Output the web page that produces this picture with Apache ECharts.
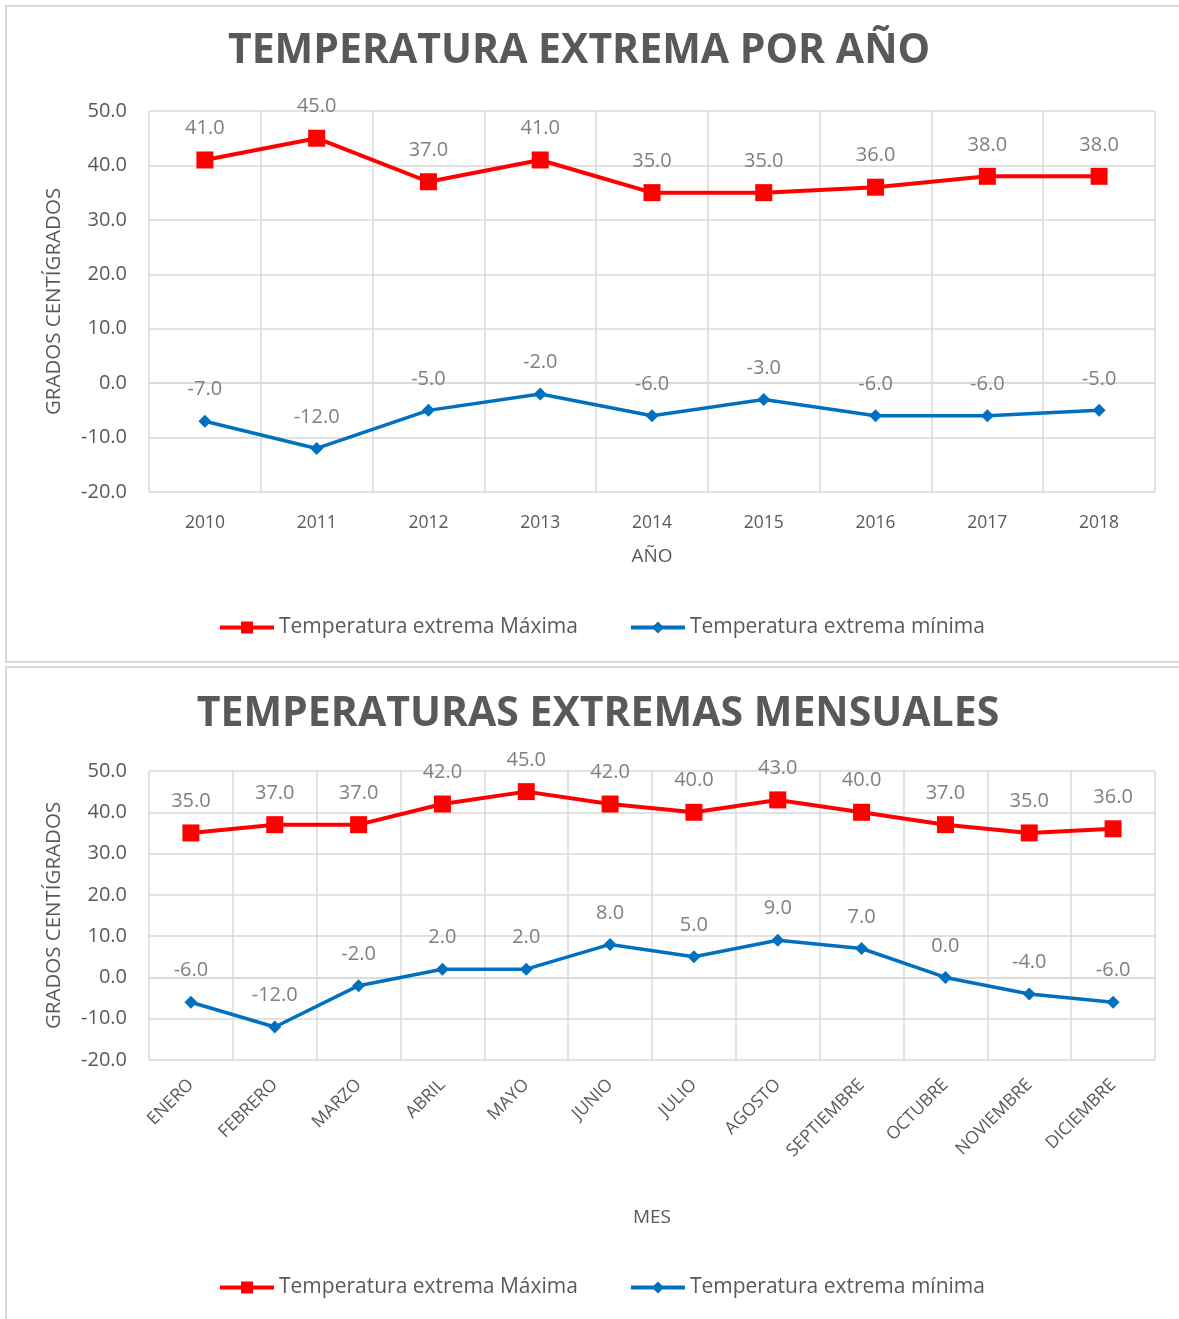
<!DOCTYPE html>
<html>
<head>
<meta charset="utf-8">
<script src="https://cdn.jsdelivr.net/npm/echarts@6/dist/echarts.min.js"></script>
<style>
  html, body { margin: 0; padding: 0; background: #fff; }
  #chartYear { position: absolute; left: 0; top: 0; width: 1179px; height: 664px; }
  #chartMonth { position: absolute; left: 0; top: 664px; width: 1179px; height: 655px; }
</style>
</head>
<body>
<div id="chartYear"></div>
<div id="chartMonth"></div>
<script>
// datos
const years = ['2010', '2011', '2012', '2013', '2014', '2015', '2016', '2017', '2018'];
const yearMax = [41, 45, 37, 41, 35, 35, 36, 38, 38];
const yearMin = [-7, -12, -5, -2, -6, -3, -6, -6, -5];

const months = ['ENERO', 'FEBRERO', 'MARZO', 'ABRIL', 'MAYO', 'JUNIO', 'JULIO', 'AGOSTO',
    'SEPTIEMBRE', 'OCTUBRE', 'NOVIEMBRE', 'DICIEMBRE'];
const monthMax = [35, 37, 37, 42, 45, 42, 40, 43, 40, 37, 35, 36];
const monthMin = [-6, -12, -2, 2, 2, 8, 5, 9, 7, 0, -4, -6];

const nameMax = 'Temperatura extrema Máxima';
const nameMin = 'Temperatura extrema mínima';

const FONT = '"Open Sans", sans-serif';
const TEXT = '#595959';
const GRID_LINE = '#d9d9d9';

function buildOption(cfg) {
    return {
        animation: false,
        textStyle: { fontFamily: FONT },
        graphic: [
            {
                type: 'rect',
                shape: cfg.border,
                style: { fill: 'none', stroke: GRID_LINE, lineWidth: 2 },
                silent: true,
            },
        ],
        title: {
            text: cfg.title,
            left: cfg.titleX,
            textAlign: 'center',
            top: cfg.titleTop,
            textStyle: { fontFamily: FONT, fontSize: 41, fontWeight: 'bold', color: TEXT },
        },
        legend: {
            left: 218,
            top: cfg.legendTop,
            padding: 0,
            itemWidth: 54,
            itemHeight: 15,
            itemGap: 51,
            textStyle: { fontFamily: FONT, fontSize: 21, color: TEXT },
            data: [
                { name: nameMax, lineStyle: { width: 4 } },
                { name: nameMin, lineStyle: { width: 4 } },
            ],
        },
        grid: { left: 149, top: cfg.gridTop, width: 1006, height: cfg.gridHeight },
        xAxis: {
            type: 'category',
            data: cfg.categories,
            boundaryGap: true,
            name: cfg.xName,
            nameLocation: 'middle',
            nameGap: cfg.xNameGap,
            nameTextStyle: { fontFamily: FONT, fontSize: 19, color: TEXT },
            axisLine: { lineStyle: { color: GRID_LINE, width: 1.5 } },
            axisTick: { show: false },
            splitLine: { show: true, lineStyle: { color: GRID_LINE, width: 1.5 } },
            axisLabel: {
                interval: 0,
                rotate: cfg.rotate,
                margin: cfg.labelMargin,
                fontFamily: FONT,
                fontSize: 17.5,
                color: TEXT,
            },
        },
        yAxis: {
            type: 'value',
            min: -20,
            max: 50,
            interval: 10,
            name: 'GRADOS CENTÍGRADOS',
            nameLocation: 'middle',
            nameGap: 84,
            nameTextStyle: { fontFamily: FONT, fontSize: 20.5, color: TEXT },
            axisLine: { show: false },
            axisTick: { show: false },
            splitLine: { lineStyle: { color: GRID_LINE, width: 1.5 } },
            axisLabel: {
                margin: 22,
                fontFamily: FONT,
                fontSize: 20,
                color: TEXT,
                formatter: (v) => v.toFixed(1),
            },
        },
        series: [
            {
                name: nameMax,
                type: 'line',
                data: cfg.maxData,
                symbol: 'rect',
                symbolSize: 17,
                itemStyle: { color: '#ff0000' },
                lineStyle: { color: '#ff0000', width: 4 },
                label: {
                    show: true,
                    position: 'top',
                    distance: 13,
                    fontFamily: FONT,
                    fontSize: 20,
                    color: '#7f7f7f',
                    formatter: (p) => p.value.toFixed(1),
                },
            },
            {
                name: nameMin,
                type: 'line',
                data: cfg.minData,
                symbol: 'diamond',
                symbolSize: 13,
                itemStyle: { color: '#0070c0' },
                lineStyle: { color: '#0070c0', width: 3.5 },
                label: {
                    show: true,
                    position: 'top',
                    distance: 15,
                    fontFamily: FONT,
                    fontSize: 20,
                    color: '#7f7f7f',
                    formatter: (p) => p.value.toFixed(1),
                },
            },
        ],
    };
}

const chartYear = echarts.init(document.getElementById('chartYear'));
chartYear.setOption(buildOption({
    border: { x: 6, y: 6, width: 1190, height: 656 },
    title: 'TEMPERATURA EXTREMA POR AÑO',
    titleX: 574,
    titleTop: 26,
    legendTop: 617,
    gridTop: 111,
    gridHeight: 381,
    categories: years,
    maxData: yearMax,
    minData: yearMin,
    xName: 'AÑO',
    xNameGap: 55,
    rotate: 0,
    labelMargin: 22,
}));

const chartMonth = echarts.init(document.getElementById('chartMonth'));
chartMonth.setOption(buildOption({
    border: { x: 6, y: 3, width: 1190, height: 670 },
    title: 'TEMPERATURAS EXTREMAS MENSUALES',
    titleX: 593,
    titleTop: 25,
    legendTop: 613,
    gridTop: 107,
    gridHeight: 289,
    categories: months,
    maxData: monthMax,
    minData: monthMin,
    xName: 'MES',
    xNameGap: 148,
    rotate: 45,
    labelMargin: 22,
}));
</script>
</body>
</html>
